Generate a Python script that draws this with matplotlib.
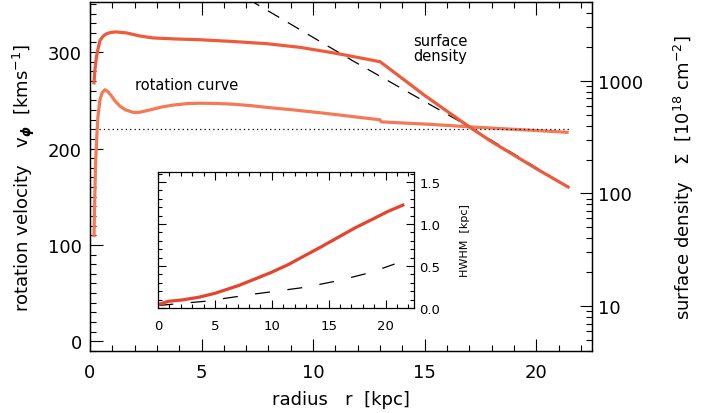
import numpy as np
import matplotlib
matplotlib.use('Agg')
import matplotlib.pyplot as plt
from matplotlib.ticker import MultipleLocator, LogLocator, NullFormatter, FixedLocator, FormatStrFormatter

plt.rcParams['font.family'] = ['DejaVu Sans']
plt.rcParams['mathtext.fontset'] = 'dejavusans'

# rotation curve  v_phi(r)  [km/s]
rot_r = [0.18, 0.20, 0.25, 0.30, 0.35, 0.45, 0.55, 0.67, 0.80, 0.95, 1.10, 1.34,
         1.60, 1.94, 2.20, 2.68, 3.20, 3.71, 4.30, 4.92, 5.60, 6.40, 7.20,
         7.92, 9.00, 10.16, 11.10, 12.08, 13.0, 13.05, 14.0, 15.07, 16.0,
         17.0, 18.79, 20.0, 21.45]
rot_v = [108, 135, 185, 210, 232, 251, 258, 261, 259, 255, 250, 244,
         240, 237.5, 237.5, 240, 243, 245, 246.5, 247, 246.8, 246, 244.5,
         242.7, 240.3, 237.5, 235, 232.3, 229.8, 227.7, 226.5, 225.3, 224,
         222.5, 220.2, 218.7, 216.7]
v_flat = 220

# surface density  Sigma(r)  [1e18 cm^-2]
sd_r = [0.18, 0.22, 0.30, 0.38, 0.45, 0.60, 0.75, 0.95, 1.19, 1.64, 2.24, 2.82,
        3.80, 4.92, 6.40, 7.92, 9.40, 10.87, 12.08, 13.0, 14.0, 15.0, 16.0,
        17.0, 18.0, 19.0, 20.0, 21.43]
sd_val = [959, 1250, 1679, 2000, 2280, 2500, 2618, 2690, 2710, 2655, 2495, 2399,
          2350, 2312, 2230, 2133, 1980, 1774, 1600, 1476, 1047, 741, 537,
          390, 288, 219, 166, 114]

# exponential disc reference (dashed)
exp_r = [7.0, 11.77, 17.0, 21.43]
exp_val = [5430, 1507, 390, 114]

# HWHM of the layer
hw_r = [0.03, 0.91, 2.08, 3.54, 5.0, 7.05, 8.51, 9.97, 11.43, 12.89, 14.36,
        15.82, 17.28, 18.74, 20.2, 21.52]
hw_val = [0.04, 0.08, 0.095, 0.127, 0.175, 0.266, 0.345, 0.425, 0.516, 0.623,
          0.73, 0.841, 0.952, 1.05, 1.15, 1.226]
hw0_r = [0.03, 4.12, 8.51, 12.89, 15.82, 18.74, 20.79]
hw0_val = [0.03, 0.08, 0.167, 0.246, 0.325, 0.425, 0.524]

c_sd = '#ee5a3c'
c_rot = '#f47a55'
c_hw = '#e8432e'
fs = 13

fig = plt.figure(figsize=(7.12, 4.14), dpi=100)
ax = fig.add_axes([0.1264, 0.1498, 0.7051, 0.843])
ax2 = ax.twinx()

ax.plot(rot_r, rot_v, color=c_rot, lw=2.3, solid_capstyle='butt')
ax.plot([0.4, 21.5], [v_flat, v_flat], ls=(0, (1, 2.5)), color='k', lw=0.9)
ax.set_xlim(0, 22.5)
ax.set_ylim(-10, 352)
ax.xaxis.set_major_locator(MultipleLocator(5))
ax.xaxis.set_minor_locator(MultipleLocator(1))
ax.yaxis.set_major_locator(MultipleLocator(100))
ax.yaxis.set_minor_locator(MultipleLocator(10))
ax.tick_params(which='both', direction='in', top=True, right=False, width=0.8)
ax.tick_params(which='major', length=9, labelsize=fs)
ax.tick_params(which='minor', length=4.5)
ax.tick_params(axis='x', pad=9)
ax.tick_params(axis='y', pad=6)
ax.set_xlabel('radius   r  [kpc]', fontsize=fs, labelpad=6)
ax.set_ylabel(r'rotation velocity   v$_{\boldsymbol{\phi}}$  [kms$^{-1}$]', fontsize=fs, labelpad=8)
ax.text(2.0, 266, 'rotation curve', fontsize=10.5, va='center')
ax.text(14.5, 304, 'surface\ndensity', fontsize=10.5, va='center', linespacing=1.0)

ax2.set_yscale('log')
ax2.plot(exp_r, exp_val, color='k', lw=0.9, dashes=(10.5, 8))
ax2.plot(sd_r, sd_val, color=c_sd, lw=2.3)
ax2.set_ylim(4, 5000)
ax2.yaxis.set_major_locator(FixedLocator([10, 100, 1000]))
ax2.yaxis.set_minor_locator(LogLocator(base=10, subs=np.arange(2, 10)))
ax2.yaxis.set_minor_formatter(NullFormatter())
ax2.set_yticklabels(['10', '100', '1000'])
ax2.tick_params(which='both', direction='in', width=0.8)
ax2.tick_params(which='major', length=9, labelsize=fs, pad=4)
ax2.tick_params(which='minor', length=4.5)
ax2.set_ylabel('surface density   Σ  [10$^{18}$ cm$^{-2}$]', fontsize=fs, labelpad=21)

for a in (ax, ax2):
    for s in a.spines.values():
        s.set_linewidth(0.9)

# inset: thickness of the layer
ins = fig.add_axes([0.2219, 0.2536, 0.3596, 0.3285])
ins.plot(hw0_r, hw0_val, color='k', lw=0.9, dashes=(12, 14))
ins.plot(hw_r, hw_val, color=c_hw, lw=2.3)
ins.set_xlim(0, 22.5)
ins.set_ylim(0, 1.62)
ins.xaxis.set_major_locator(MultipleLocator(5))
ins.xaxis.set_minor_locator(MultipleLocator(1))
ins.yaxis.set_major_locator(MultipleLocator(0.5))
ins.yaxis.set_minor_locator(MultipleLocator(0.1))
ins.yaxis.set_major_formatter(FormatStrFormatter('%.1f'))
ins.yaxis.tick_right()
ins.yaxis.set_label_position('right')
ins.tick_params(which='both', direction='in', top=True, left=True, right=True, width=0.8)
ins.tick_params(which='major', length=6, labelsize=9.5)
ins.tick_params(which='minor', length=3)
ins.tick_params(axis='x', pad=8)
ins.tick_params(axis='y', pad=4)
ins.set_ylabel('HWHM  [kpc]', fontsize=8, labelpad=14)
for s in ins.spines.values():
    s.set_linewidth(0.9)

fig.savefig('out.png', dpi=100)
